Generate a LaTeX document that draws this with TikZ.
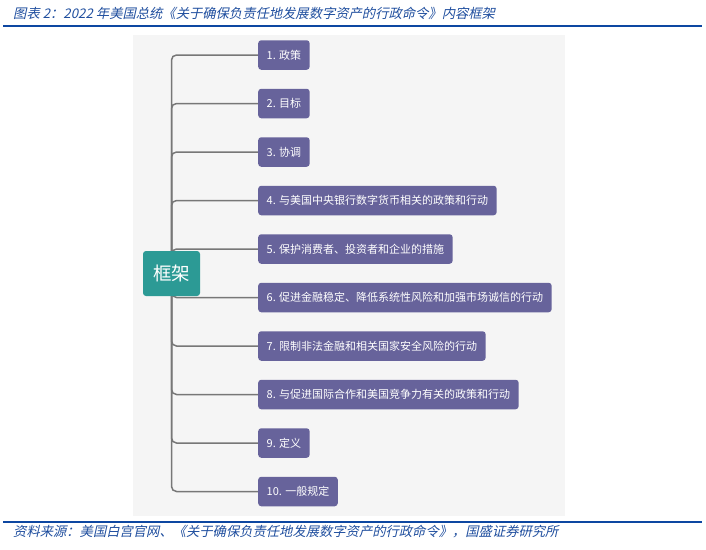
\documentclass[tikz,border=0pt]{standalone}
\usepackage{fontspec}
\newfontfamily\cjk{Noto Sans CJK SC}
\newfontfamily\cjkit[FakeSlant=0.22]{Noto Sans CJK SC}
\usetikzlibrary{backgrounds}
\definecolor{boxc}{HTML}{67639B}
\definecolor{rootc}{HTML}{2C9A95}
\definecolor{linec}{HTML}{777777}
\definecolor{panelc}{HTML}{F5F5F5}
\definecolor{titlec}{HTML}{1F4E9E}
\definecolor{rulec}{HTML}{0D47A1}
\begin{document}
\begin{tikzpicture}[x=1pt,y=-1pt,
 item/.style={fill=boxc, text=white, rounded corners=3pt, anchor=west, inner xsep=8.5pt, inner ysep=0pt, minimum height=29.5pt, font=\cjk\fontsize{11}{13}\selectfont},
 rootbox/.style={fill=rootc, text=white, rounded corners=3pt, minimum width=57pt, minimum height=45pt, inner sep=0pt, font=\cjk\fontsize{18.5}{20}\selectfont},
 branch/.style={draw=linec, line width=1.5pt, rounded corners=5pt},
 rulestyle/.style={draw=rulec, line width=1.3pt},
 caption/.style={anchor=west, text=titlec, inner sep=0pt, font=\cjkit\fontsize{13.3}{15}\selectfont}]
\useasboundingbox (0,0) rectangle (706,549);
\node[caption] (title) at (13,13) {图表 2：2022 年美国总统《关于确保负责任地发展数字资产的行政命令》内容框架};
\node[caption] (source) at (13,532) {资料来源：美国白宫官网、《关于确保负责任地发展数字资产的行政命令》，国盛证券研究所};
\draw[rulestyle] (3,26) -- (702,26);
\draw[rulestyle] (3,522) -- (702,522);
\node[rootbox] (root) at (171.5,273.5) {框架};
\foreach \i/\t in {1/{1. 政策},2/{2. 目标},3/{3. 协调},4/{4. 与美国中央银行数字货币相关的政策和行动},5/{5. 保护消费者、投资者和企业的措施},6/{6. 促进金融稳定、降低系统性风险和加强市场诚信的行动},7/{7. 限制非法金融和相关国家安全风险的行动},8/{8. 与促进国际合作和美国竞争力有关的政策和行动},9/{9. 定义},10/{10. 一般规定}}{
  \node[item] (b\i) at (258,{55+48.5*(\i-1)}) {\t};
}
\begin{scope}[on background layer]
  \fill[panelc] (133,35) rectangle (565,516);
  \foreach \i in {1,...,10}{
    \draw[branch] (root.center) |- (b\i.west);
  }
\end{scope}
\end{tikzpicture}
\end{document}
